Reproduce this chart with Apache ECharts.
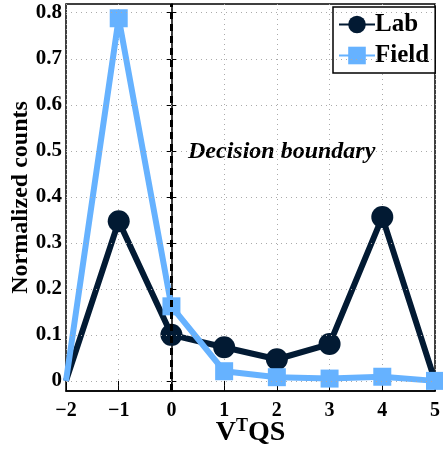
<!DOCTYPE html>
<html>
<head>
<meta charset="utf-8">
<script src="https://cdn.jsdelivr.net/npm/echarts@6/dist/echarts.min.js"></script>
<style>
  html, body { margin: 0; padding: 0; background: #fff; }
  #main { width: 443px; height: 451px; }
</style>
</head>
<body>
<div id="main"></div>
<script>
// data
const xValues = [-2, -1, 0, 1, 2, 3, 4, 5];
const labValues = [0, 0.347, 0.100, 0.073, 0.047, 0.080, 0.356, 0];
const fieldValues = [0, 0.788, 0.162, 0.021, 0.008, 0.005, 0.009, 0];
const yTicks = [0, 0.1, 0.2, 0.3, 0.4, 0.5, 0.6, 0.7, 0.8];

const FONT = "'Liberation Serif', 'Times New Roman', serif";
const LAB = '#021a33';
const FIELD = '#66b2ff';

// no marker on the first point (as in the original), line only
const pairs = (ys, hideLast) => xValues.map((x, i) => {
  const item = { value: [x, ys[i]] };
  if (i === 0 || (hideLast && i === xValues.length - 1)) item.symbol = 'none';
  return item;
});

const tickOnly = { inside: true, length: 5, lineStyle: { color: '#000' } };

const chart = echarts.init(document.getElementById('main'));
chart.setOption({
  animation: false,
  grid: {
    left: 66, right: 8, top: 4, bottom: 60,
    outerBoundsMode: 'none', containLabel: false,
    show: true, borderColor: '#000', borderWidth: 1.5
  },
  legend: {
    data: ['Lab', 'Field'],
    orient: 'vertical',
    left: 333, top: 7,
    itemWidth: 36, itemHeight: 22, itemGap: 6,
    padding: [5, 6, 5, 5],
    borderColor: '#000', borderWidth: 1.5,
    backgroundColor: '#fff',
    textStyle: { fontFamily: FONT, fontWeight: 'bold', fontSize: 25, color: '#000', padding: [0, 0, 0, -5] }
  },
  xAxis: [{
    type: 'value', min: -2, max: 5, interval: 1,
    name: '{v|V}{t|T}{v|QS}',
    nameLocation: 'middle', nameGap: 26, nameMoveOverlap: false,
    nameTextStyle: {
      rich: {
        v: { fontFamily: FONT, fontWeight: 'bold', fontSize: 28, color: '#000', verticalAlign: 'bottom', lineHeight: 30 },
        t: { fontFamily: FONT, fontWeight: 'bold', fontSize: 18, color: '#000', verticalAlign: 'top', lineHeight: 30, padding: [0, 0, 12, 0] }
      }
    },
    axisLine: { onZero: false, lineStyle: { color: '#000', width: 1.5 } },
    axisTick: tickOnly,
    axisLabel: {
      fontFamily: FONT, fontWeight: 'bold', fontSize: 20, color: '#000', margin: 10,
      formatter: (v) => String(v).replace('-', '\u2212')
    },
    splitLine: { show: true, lineStyle: { color: '#aaa', type: [1, 4], width: 1 } }
  }, {
    type: 'value', min: -2, max: 5, interval: 1, position: 'top',
    axisLine: { show: false }, axisTick: tickOnly,
    axisLabel: { show: false }, splitLine: { show: false }
  }],
  yAxis: [{
    type: 'value', min: -0.022, max: 0.819,
    name: 'Normalized counts',
    nameLocation: 'middle', nameGap: 33, nameMoveOverlap: false,
    nameTextStyle: { fontFamily: FONT, fontWeight: 'bold', fontSize: 24, color: '#000' },
    axisLine: { show: true, lineStyle: { color: '#000', width: 1.5 } },
    axisTick: Object.assign({ customValues: yTicks }, tickOnly),
    axisLabel: {
      fontFamily: FONT, fontWeight: 'bold', fontSize: 21, color: '#000', margin: 4,
      customValues: yTicks,
      formatter: (v) => (v === 0 ? '0' : v.toFixed(1))
    },
    splitLine: { show: false }
  }, {
    type: 'value', min: -0.022, max: 0.819, position: 'right',
    axisLine: { show: false },
    axisTick: Object.assign({ customValues: yTicks }, tickOnly),
    axisLabel: { show: false }, splitLine: { show: false }
  }],
  graphic: [{
    type: 'text', left: 188, top: 140,
    style: { text: 'Decision boundary', fontFamily: FONT, fontWeight: 'bold', fontStyle: 'italic', fontSize: 24, fill: '#000' }
  }],
  series: [
    {
      name: 'grid', type: 'line', data: [], z: 1, silent: true,
      markLine: {
        silent: true, symbol: 'none', label: { show: false },
        lineStyle: { color: '#aaa', type: [1, 4], width: 1 },
        data: yTicks.map((v) => ({ yAxis: v }))
      }
    },
    {
      name: 'boundary', type: 'line', data: [], z: 2, silent: true,
      markLine: {
        silent: true, symbol: 'none', label: { show: false },
        lineStyle: { color: '#000', type: [7, 5], width: 3 },
        data: [{ xAxis: 0 }]
      }
    },
    {
      name: 'Lab', type: 'line', data: pairs(labValues, true), z: 3,
      symbol: 'circle', symbolSize: 22,
      lineStyle: { color: LAB, width: 6 },
      itemStyle: { color: LAB }
    },
    {
      name: 'Field', type: 'line', data: pairs(fieldValues, false), z: 4,
      symbol: 'rect', symbolSize: 18,
      lineStyle: { color: FIELD, width: 6 },
      itemStyle: { color: FIELD }
    }
  ]
});
</script>
</body>
</html>
